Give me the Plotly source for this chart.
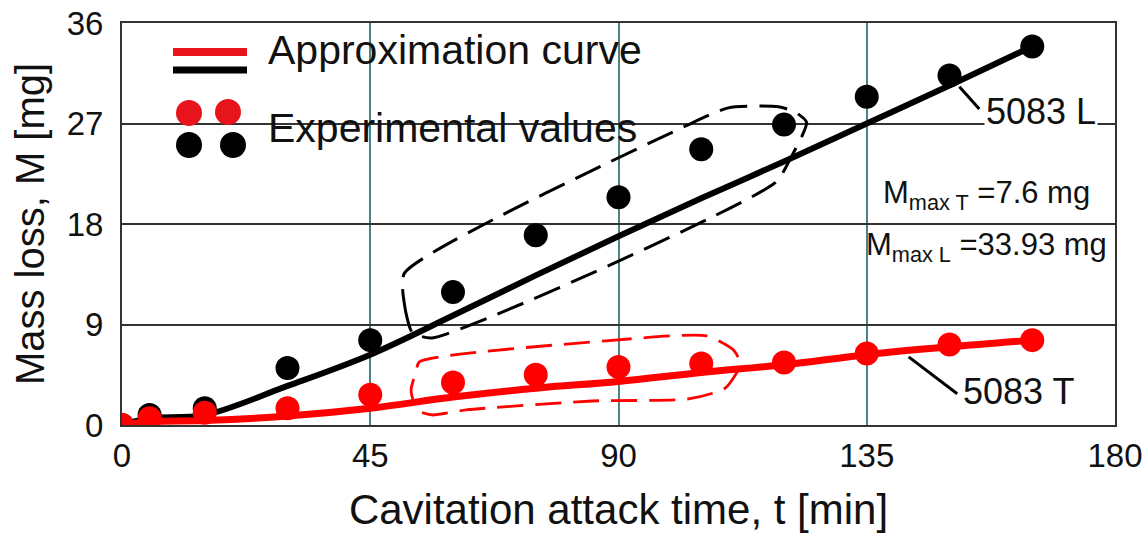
import plotly.graph_objects as go

# ---------------- data ----------------
t_exp = [0, 5, 15, 30, 45, 60, 75, 90, 105, 120, 135, 150, 165]
m_L_exp = [0, 0.9, 1.5, 5.1, 7.6, 11.9, 17.0, 20.4, 24.7, 26.9, 29.4, 31.3, 33.9]
m_T_exp = [0, 0.6, 1.1, 1.5, 2.7, 3.8, 4.5, 5.2, 5.5, 5.6, 6.4, 7.2, 7.6]

t_fit = [0, 5, 15, 30, 45, 60, 75, 90, 105, 120, 135, 150, 165]
m_L_fit = [0, 0.6, 0.9, 3.5, 6.3, 9.8, 13.4, 16.9, 20.3, 23.6, 27.0, 30.4, 33.9]
m_T_fit = [0, 0.3, 0.4, 0.8, 1.5, 2.5, 3.3, 3.9, 4.7, 5.4, 6.3, 7.0, 7.6]

# dashed envelopes (annotation outlines) in data units
env_L_t = [51.2, 51.2, 52.6, 56.2, 118.4, 121.3, 124.1, 122.1, 119.0, 109.9, 102.7, 51.2]
env_L_m = [13.6, 10.8, 8.3, 7.8, 21.7, 24.0, 27.1, 28.0, 28.5, 28.4, 26.9, 13.6]
env_T_t = [53.9, 87.7, 106.0, 110.8, 112.1, 109.4, 102.7, 85.2, 62.4, 56.2, 53.5, 52.4, 53.3, 53.9]
env_T_m = [5.65, 7.53, 7.98, 6.73, 5.47, 3.32, 2.33, 2.15, 1.35, 0.90, 1.35, 3.14, 4.75, 5.65]

x_ticks = [0, 45, 90, 135, 180]
y_ticks = [0, 9, 18, 27, 36]

# ---------------- layout constants ----------------
W, H = 1144, 537
L, R, T, B = 122, 29, 23, 112
PW, PH = W - L - R, H - T - B
FONT = "Liberation Sans, Arial, sans-serif"
RED = "#ff0000"
BLACK = "#000000"


def px(x):
    return (x - L) / PW


def py(y):
    return (H - B - y) / PH


fig = go.Figure()

fig.add_trace(go.Scatter(x=env_L_t, y=env_L_m, mode="lines",
                         line=dict(color=BLACK, width=3, dash="28px,12px", shape="spline", smoothing=0.6),
                         hoverinfo="skip", showlegend=False))
fig.add_trace(go.Scatter(x=env_T_t, y=env_T_m, mode="lines",
                         line=dict(color=RED, width=2.8, dash="26px,12px", shape="spline", smoothing=0.6),
                         hoverinfo="skip", showlegend=False))

fig.add_trace(go.Scatter(x=t_fit, y=m_L_fit, mode="lines",
                         line=dict(color=BLACK, width=6, shape="spline", smoothing=1.0),
                         showlegend=False))
fig.add_trace(go.Scatter(x=t_exp, y=m_L_exp, mode="markers",
                         marker=dict(color=BLACK, size=24), showlegend=False))
fig.add_trace(go.Scatter(x=t_fit, y=m_T_fit, mode="lines",
                         line=dict(color=RED, width=7, shape="spline", smoothing=1.0),
                         showlegend=False))
fig.add_trace(go.Scatter(x=t_exp, y=m_T_exp, mode="markers",
                         marker=dict(color=RED, size=24), showlegend=False))

shapes = []
# white legend background hiding gridlines
shapes.append(dict(type="rect", xref="paper", yref="paper", x0=px(165), x1=px(650), y0=py(163), y1=py(25),
                   fillcolor="white", line=dict(width=0), layer="between"))
# legend line samples
shapes.append(dict(type="line", xref="paper", yref="paper", x0=px(173), x1=px(247), y0=py(52), y1=py(52),
                   line=dict(color="#e8141c", width=8)))
shapes.append(dict(type="line", xref="paper", yref="paper", x0=px(173), x1=px(247), y0=py(70), y1=py(70),
                   line=dict(color=BLACK, width=7)))
# legend dots
for cx, cy, col in [(189, 113, "#e8141c"), (228, 112, "#e8141c"), (189, 145, BLACK), (233, 145, BLACK)]:
    shapes.append(dict(type="circle", xref="paper", yref="paper", xsizemode="pixel", ysizemode="pixel",
                       xanchor=px(cx), yanchor=py(cy), x0=-13, x1=13, y0=-13, y1=13,
                       fillcolor=col, line=dict(width=0)))
# leader lines for curve labels
shapes.append(dict(type="line", xref="x", yref="y", x0=151.8, y0=30.3, x1=155.4, y1=28.3,
                   line=dict(color=BLACK, width=3)))
shapes.append(dict(type="line", xref="x", yref="y", x0=142.6, y0=6.1, x1=151.4, y1=2.8,
                   line=dict(color=BLACK, width=3)))

annotations = [
    dict(xref="paper", yref="paper", x=px(266), y=py(50), xanchor="left", yanchor="middle",
         text="Approximation curve", showarrow=False, font=dict(family=FONT, size=41, color="#111")),
    dict(xref="paper", yref="paper", x=px(266), y=py(128), xanchor="left", yanchor="middle",
         text="Experimental values", showarrow=False, font=dict(family=FONT, size=41, color="#111")),
    dict(xref="x", yref="y", x=156.3, y=28.1, xanchor="left", yanchor="middle", text="5083 L",
         showarrow=False, bgcolor="white", borderpad=1, font=dict(family=FONT, size=36, color="#111")),
    dict(xref="x", yref="y", x=152.0, y=2.96, xanchor="left", yanchor="middle", text="5083 T",
         showarrow=False, font=dict(family=FONT, size=36, color="#111")),
    dict(xref="x", yref="y", x=156.7, y=20.6, xanchor="center", yanchor="middle",
         text="M<sub>max T</sub> =7.6 mg", showarrow=False, font=dict(family=FONT, size=31, color="#111")),
    dict(xref="x", yref="y", x=156.7, y=15.9, xanchor="center", yanchor="middle",
         text="M<sub>max L</sub> =33.93 mg", showarrow=False, font=dict(family=FONT, size=31, color="#111")),
]

fig.update_layout(
    width=W, height=H,
    margin=dict(l=L, r=R, t=T, b=B, autoexpand=False),
    paper_bgcolor="white", plot_bgcolor="white",
    showlegend=False,
    shapes=shapes, annotations=annotations,
    font=dict(family=FONT, color="#111"),
)
fig.update_xaxes(range=[0, 180], tickvals=x_ticks, ticktext=[str(v) for v in x_ticks],
                 showgrid=True, gridcolor="#4f8383", gridwidth=1.5, zeroline=False,
                 showline=True, linecolor="#333", linewidth=2, mirror=True, automargin=False,
                 ticks="", ticklabelstandoff=0, tickfont=dict(family=FONT, size=33, color="#111"),
                 title=dict(text="Cavitation attack time, t [min]", font=dict(family=FONT, size=42, color="#111"),
                            standoff=22))
fig.update_yaxes(range=[0, 36], tickvals=y_ticks, ticktext=[str(v) for v in y_ticks],
                 showgrid=True, gridcolor="#333333", gridwidth=1.5, zeroline=False,
                 showline=True, linecolor="#333", linewidth=2, mirror=True, automargin=False,
                 ticks="", ticklabelstandoff=10, tickfont=dict(family=FONT, size=33, color="#111"),
                 title=dict(text="Mass loss, M [mg]", font=dict(family=FONT, size=40, color="#111"),
                            standoff=10))

fig.write_html("out.html", config={"displayModeBar": False},
               post_script="document.body.style.margin='0';document.body.style.padding='0';")
